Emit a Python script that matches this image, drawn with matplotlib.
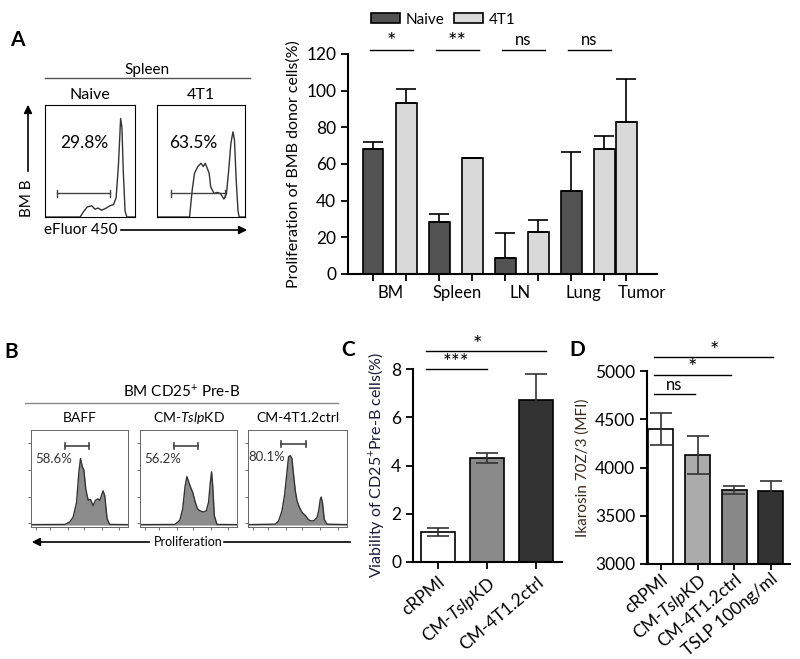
import numpy as np
import matplotlib.pyplot as plt
from matplotlib.lines import Line2D

plt.rcParams['font.family'] = ['Lato', 'DejaVu Sans']
plt.rcParams['mathtext.fontset'] = 'custom'
plt.rcParams['mathtext.rm'] = 'Lato'
plt.rcParams['mathtext.it'] = 'Lato:italic'
plt.rcParams['mathtext.bf'] = 'Lato:bold'

W, H = 800, 659

# ---- panel A: bar chart
organs = ["BM", "Spleen", "LN", "Lung", "Tumor"]
naive_mean = [68, 28.5, 8.5, 45.5]
naive_err = [4, 4, 14, 21]
t1_mean = [93, 63.5, 23, 68, 83]
t1_err = [8, 0, 6.5, 7, 23.5]
sig_a = ["*", "**", "ns", "ns"]

# ---- panel A: flow histograms (box coords 0-100)
a_naive_x = [0, 39, 43, 47, 52, 55.5, 59, 63, 68, 72, 76, 79, 81.5, 83, 84, 85.5, 87, 89, 91, 100]
a_naive_y = [0, 0, 5, 9, 10, 7, 8, 6, 8, 10, 11, 17, 45, 70, 88, 80, 40, 5, 0, 0]
a_4t1_x = [0, 37, 40, 42.6, 46.3, 50, 52.6, 54.8, 57.4, 59.3, 61, 64.8, 68.5, 72, 76, 79, 81.5,
           84, 86.3, 88, 90, 92, 93.3, 100]
a_4t1_y = [0, 0, 24, 39, 45, 48, 45, 48, 43, 39, 27, 21, 22, 21, 16, 21, 42, 66, 76, 69, 33, 6, 0, 0]
a_pct = ["29.8%", "63.5%"]
a_titles = ["Naive", "4T1"]

# ---- panel B: flow histograms (box coords 0-100)
b_baff_x = [0, 35, 40, 43.5, 47, 49.3, 51, 53, 54.5, 56.5, 59, 61.3, 64, 66.4, 69, 71, 72.6,
            74.3, 76, 78.4, 81, 100]
b_baff_y = [0.5, 0.7, 3.4, 8.5, 24, 55, 70, 61, 58, 37.5, 26, 27, 20.5, 26, 27.6, 26, 31, 36,
            31, 7, 0.7, 0.5]
b_kd_x = [0, 36, 41, 44, 46.5, 48.3, 50, 51.7, 54.5, 57, 59.3, 62, 65.5, 68.3, 70.7, 72.4,
          73.8, 75, 76.6, 79.3, 100]
b_kd_y = [0.5, 0.7, 5, 17, 41, 51, 46, 41, 34, 24, 17, 15, 13.7, 15, 24, 44, 56, 41, 10, 0.7, 0.5]
b_ctrl_x = [0, 27.6, 31, 34.3, 37, 39.4, 41, 42.8, 44.4, 46, 47.8, 49.5, 51.9, 54.5, 58, 60.6,
            63, 66.3, 69.7, 71.4, 73, 74, 75.4, 77, 79.8, 100]
b_ctrl_y = [0.5, 1, 4.5, 15, 32, 56, 72, 73, 70, 53, 36, 25.7, 18.7, 13.5, 10, 6.25, 4.5, 4.5,
            8, 15, 27, 29.5, 22, 6, 1, 0.5]
b_pct = ["58.6%", "56.2%", "80.1%"]
b_titles = ["BAFF", "CM-$\\mathit{Tslp}$KD", "CM-4T1.2ctrl"]

# ---- panel C
c_groups = ["cRPMI", "CM-$\\mathit{Tslp}$KD", "CM-4T1.2ctrl"]
c_mean = [1.25, 4.3, 6.7]
c_err = [0.17, 0.2, 1.1]

# ---- panel D
d_groups = ["cRPMI", "CM-$\\mathit{Tslp}$KD", "CM-4T1.2ctrl", "TSLP 100ng/ml"]
d_mean = [4400, 4130, 3770, 3760]
d_err = [165, 195, 40, 100]


def fx(x):
    return x / W


def fy(y):
    return 1 - y / H


def add_ax(x0, y0, x1, y1):
    return fig.add_axes([fx(x0), fy(y1), (x1 - x0) / W, (y1 - y0) / H])


def ftext(x, y, s, **kw):
    fig.text(fx(x), fy(y), s, **kw)


def fline(x0, y0, x1, y1, **kw):
    fig.add_artist(Line2D([fx(x0), fx(x1)], [fy(y0), fy(y1)], transform=fig.transFigure, **kw))


def farrow(x0, y0, x1, y1):
    fig.add_artist(plt.matplotlib.patches.FancyArrowPatch(
        (fx(x0), fy(y0)), (fx(x1), fy(y1)), transform=fig.transFigure,
        arrowstyle='-|>', mutation_scale=12, lw=1.2, color='black'))


def style_bar_ax(ax):
    for s in ['top', 'right']:
        ax.spines[s].set_visible(False)
    for s in ['left', 'bottom']:
        ax.spines[s].set_linewidth(1.5)
    ax.tick_params(width=1.3, length=5, labelsize=12.5)


fig = plt.figure(figsize=(8, 6.59), dpi=100)

# ================= Panel A flow =================
ftext(10, 40, "A", fontsize=15, fontweight='bold', va='center')
ftext(147, 70, "Spleen", fontsize=11, ha='center', va='center')
fline(45, 78, 250, 78, color='#555555', lw=1)
boxes_a = [(45, 135), (157, 245)]
hist_a = [(a_naive_x, a_naive_y), (a_4t1_x, a_4t1_y)]
gates_a = [(13.7, 72), (15.5, 77.8)]
pct_x = [44, 40.7]
for i, (x0, x1) in enumerate(boxes_a):
    ax = add_ax(x0, 105, x1, 217)
    hx, hy = hist_a[i]
    ax.plot(hx, hy, color='#333333', lw=1)
    g0, g1 = gates_a[i]
    ax.plot([g0, g1], [21, 21], color='#444444', lw=1)
    ax.plot([g0, g0], [18, 24], color='#444444', lw=1)
    ax.plot([g1, g1], [18, 24], color='#444444', lw=1)
    ax.text(pct_x[i], 66, a_pct[i], fontsize=12.5, ha='center', va='center')
    ax.set_xlim(0, 100)
    ax.set_ylim(0, 100)
    ax.set_xticks([])
    ax.set_yticks([])
    for s in ax.spines.values():
        s.set_linewidth(0.8)
    ftext((x0 + x1) / 2, 95, a_titles[i], fontsize=11.5, ha='center', va='center')
farrow(28, 174, 28, 102)
ftext(27, 198, "BM B", fontsize=11, rotation=90, ha='center', va='center')
ftext(44, 230, "eFluor 450", fontsize=11, ha='left', va='center')
farrow(118, 230, 250, 230)

# ================= Panel A bars =================
axA = add_ax(348, 54, 657, 274)
naive_pos = [0, 2, 4, 6]
t1_pos = [1, 3, 5, 7, 7.67]
bw = 0.63
bn = axA.bar(naive_pos, naive_mean, width=bw, color='#525252', edgecolor='black', lw=1.2, label='Naive')
bt = axA.bar(t1_pos, t1_mean, width=bw, color='#d9d9d9', edgecolor='black', lw=1.2, label='4T1')
axA.errorbar(naive_pos, naive_mean, yerr=[np.zeros(len(naive_err)), naive_err], fmt='none',
             ecolor='black', elinewidth=1.2, capsize=7, capthick=1.2)
axA.errorbar(t1_pos, t1_mean, yerr=[np.zeros(len(t1_err)), t1_err], fmt='none',
             ecolor='black', elinewidth=1.2, capsize=7, capthick=1.2)
axA.set_xlim(-0.76, 8.6)
axA.set_ylim(0, 120)
axA.set_yticks([0, 20, 40, 60, 80, 100, 120])
axA.set_xticks(naive_pos + t1_pos)
axA.set_xticklabels([])
style_bar_ax(axA)
axA.set_ylabel("Proliferation of BMB donor cells(%)", fontsize=11.5, labelpad=4)
label_pos = [0.52, 2.55, 4.45, 6.36, 8.15]
for p, name in zip(label_pos, organs):
    axA.text(p, -6, name, fontsize=12, ha='center', va='top', clip_on=False)
for p, s in zip(naive_pos, sig_a):
    axA.plot([p - 0.1, p + 1.2], [122, 122], color='black', lw=1, clip_on=False)
    if s == "ns":
        axA.text(p + 0.55, 123.5, s, fontsize=12, ha='center', va='bottom', clip_on=False)
    else:
        axA.text(p + 0.55, 121, s, fontsize=16, ha='center', va='bottom', clip_on=False)
fig.legend(handles=[bn, bt], loc='upper left', bbox_to_anchor=(fx(360), fy(2)), ncol=2,
           frameon=False, fontsize=11, handlelength=1.9, handleheight=0.65,
           handletextpad=0.4, columnspacing=0.6, borderpad=0.2)

# ================= Panel B =================
ftext(4, 352, "B", fontsize=15, fontweight='bold', va='center')
ftext(182, 392, "BM CD25$^{+}$ Pre-B", fontsize=11, ha='center', va='center')
fline(25, 403, 338, 403, color='#888888', lw=1)
boxes_b = [(31, 128), (140, 237), (248, 347)]
hist_b = [(b_baff_x, b_baff_y), (b_kd_x, b_kd_y), (b_ctrl_x, b_ctrl_y)]
gates_b = [(35, 60, 83), (35, 60, 83), (33.7, 58.6, 85)]
pct_b = [(23, 69), (23.5, 70), (19, 72)]
for i, (x0, x1) in enumerate(boxes_b):
    ax = add_ax(x0, 430, x1, 527)
    hx, hy = hist_b[i]
    ax.fill_between(hx, hy, 0, color='#8c8c8c', lw=0)
    ax.plot(hx, hy, color='#333333', lw=1)
    g0, g1, gy = gates_b[i]
    ax.plot([g0, g1], [gy, gy], color='#444444', lw=1.2)
    ax.plot([g0, g0], [gy - 3, gy + 3], color='#444444', lw=1.2)
    ax.plot([g1, g1], [gy - 3, gy + 3], color='#444444', lw=1.2)
    ax.text(pct_b[i][0], pct_b[i][1], b_pct[i], fontsize=9.5, ha='center', va='center', color='#333333')
    ax.set_xlim(0, 100)
    ax.set_ylim(-2, 100)
    ax.set_xticks([5, 20, 38, 55, 73, 91])
    ax.set_yticks([2, 30, 58, 86])
    ax.tick_params(length=2, width=0.6, labelbottom=False, labelleft=False, color='#555555')
    for s in ax.spines.values():
        s.set_linewidth(0.7)
        s.set_color('#666666')
    ftext((x0 + x1) / 2, 418, b_titles[i], fontsize=10, ha='center', va='center')
ftext(188, 542, "Proliferation", fontsize=9, ha='center', va='center')
farrow(152, 542, 29, 542)
fline(224, 542, 350, 542, color='black', lw=1.2)

# ================= Panel C =================
ftext(341, 350, "C", fontsize=15, fontweight='bold', va='center')
axC = add_ax(413, 369, 562, 562)
c_pos = [0, 1, 2]
axC.bar(c_pos, c_mean, width=0.68, color=['white', '#8a8a8a', '#333333'], edgecolor='black', lw=1.2)
axC.errorbar(c_pos, c_mean, yerr=c_err, fmt='none', ecolor='#333333', elinewidth=1.2,
             capsize=8, capthick=1.2)
axC.set_xlim(-0.51, 2.53)
axC.set_ylim(0, 8)
axC.set_yticks([0, 2, 4, 6, 8])
axC.set_xticks(c_pos)
axC.set_xticklabels(c_groups, rotation=40, ha='right', rotation_mode='anchor', fontsize=11)
style_bar_ax(axC)
axC.set_ylabel("Viability of CD25$^{+}$Pre-B cells(%)", fontsize=11.5, color='#1a1a3a', labelpad=4)
axC.plot([-0.25, 0.99], [8.0, 8.0], color='black', lw=1, clip_on=False)
axC.text(0.37, 7.85, "***", fontsize=15, ha='center', va='bottom', clip_on=False)
axC.plot([-0.25, 2.2], [8.75, 8.75], color='black', lw=1, clip_on=False)
axC.text(0.8, 8.6, "*", fontsize=16, ha='center', va='bottom', clip_on=False)

# ================= Panel D =================
ftext(569, 350, "D", fontsize=15, fontweight='bold', va='center')
axD = add_ax(647, 371, 790, 564)
d_pos = [0, 1, 2, 3]
axD.bar(d_pos, np.array(d_mean) - 3000, bottom=3000, width=0.68,
        color=['white', '#ababab', '#888888', '#333333'], edgecolor='black', lw=1.2)
axD.errorbar(d_pos, d_mean, yerr=d_err, fmt='none', ecolor='#333333', elinewidth=1.2,
             capsize=8, capthick=1.2)
axD.set_xlim(-0.38, 3.52)
axD.set_ylim(3000, 5000)
axD.set_yticks([3000, 3500, 4000, 4500, 5000])
axD.set_xticks(d_pos)
axD.set_xticklabels(d_groups, rotation=40, ha='right', rotation_mode='anchor', fontsize=9)
style_bar_ax(axD)
axD.tick_params(axis='x', pad=1, length=4)
axD.set_ylabel("Ikarosin 70Z/3 (MFI)", fontsize=11, color='#3a2a1a', labelpad=4)
axD.plot([-0.2, 0.92], [4760, 4760], color='black', lw=1, clip_on=False)
axD.text(0.35, 4770, "ns", fontsize=12, ha='center', va='bottom', clip_on=False)
axD.plot([-0.2, 1.92], [4960, 4960], color='black', lw=1, clip_on=False)
axD.text(0.85, 4925, "*", fontsize=16, ha='center', va='bottom', clip_on=False)
axD.plot([-0.2, 3.05], [5140, 5140], color='black', lw=1, clip_on=False)
axD.text(1.45, 5105, "*", fontsize=16, ha='center', va='bottom', clip_on=False)

fig.savefig("out.png", dpi=100)
